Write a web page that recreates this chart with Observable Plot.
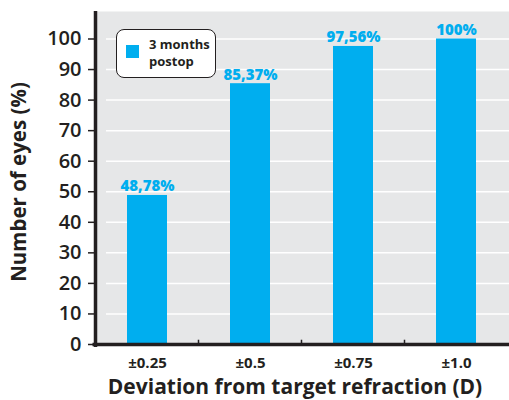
<!DOCTYPE html>
<html>
<head>
<meta charset="utf-8">
<script src="https://cdn.jsdelivr.net/npm/d3@7"></script>
<script src="https://cdn.jsdelivr.net/npm/@observablehq/plot@0.6"></script>
<style>
  html, body { margin: 0; padding: 0; background: #fff; }
  #chart { position: relative; width: 509px; height: 400px; }
  .legend {
    position: absolute; left: 116px; top: 29px; width: 98px; height: 47px;
    border: 1.5px solid #231f20; border-radius: 8px; background: #fff;
    font-family: "Open Sans", sans-serif; font-weight: 700; font-size: 13px; color: #231f20;
    box-sizing: content-box;
  }
  .legend .swatch { position: absolute; left: 9px; top: 15px; width: 13px; height: 13px; }
  .legend .lbl { position: absolute; left: 32px; top: 6px; line-height: 17px; }
</style>
</head>
<body>
<div id="chart"></div>
<script>
// Share of eyes within each refraction deviation band, 3 months after surgery
const categories = ["±0.25", "±0.5", "±0.75", "±1.0"];
const values = [48.78, 85.37, 97.56, 100];
const valueLabels = ["48,78%", "85,37%", "97,56%", "100%"];
const yTicks = [0, 10, 20, 30, 40, 50, 60, 70, 80, 90, 100];
const seriesName = ["3 months", "postop"];
const xTitle = "Deviation from target refraction (D)";
const yTitle = "Number of eyes (%)";

const ink = "#231f20";
const blue = "#00aeef";
const data = categories.map((c, i) => ({cat: c, value: values[i], label: valueLabels[i]}));

const chart = Plot.plot({
  width: 509,
  height: 400,
  marginLeft: 94,
  marginRight: 0,
  marginTop: 11,
  marginBottom: 56,
  style: {fontFamily: "'Open Sans', sans-serif", fontWeight: 600, color: ink, background: "#fff"},
  x: {domain: categories, paddingInner: 0.615, paddingOuter: 0.3075},
  y: {domain: [0, 109]},
  marks: [
    Plot.frame({fill: "#e6e7e8", stroke: null}),
    Plot.ruleY(yTicks.slice(1), {stroke: "#fff", strokeWidth: 1.5, insetLeft: 12}),
    Plot.barY(data, {x: "cat", y: "value", fill: blue}),
    Plot.text(data, {x: "cat", y: "value", text: "label", fill: blue, fontSize: 15, fontWeight: 800, lineAnchor: "bottom", dy: -4}),
    // small ticks between the bands along the baseline
    Plot.ruleX(categories.slice(1), {x: d => d, dx: -52, y1: 0, y2: 1.4, stroke: ink, strokeWidth: 1.5}),
    // axis lines
    Plot.ruleX([categories[0]], {x: d => d, dx: -52, stroke: ink, strokeWidth: 3.5, insetBottom: -3}),
    Plot.ruleY([0], {stroke: ink, strokeWidth: 3.5, insetLeft: -1.5}),
    Plot.axisY({ticks: yTicks, tickSize: 6, tickPadding: 7, fontSize: 20, fontWeight: 600, stroke: ink, strokeWidth: 1.5, fill: ink, label: null}),
    Plot.axisX({tickSize: 0, tickPadding: 13, fontSize: 15, fontWeight: 700, fill: ink, label: null}),
    Plot.text([xTitle], {frameAnchor: "bottom", dy: 49, dx: -7, fontSize: 21, fontWeight: 700, fill: ink}),
    Plot.text([yTitle], {frameAnchor: "left", textAnchor: "middle", lineAnchor: "middle", dx: -75, dy: 4, rotate: -90, fontSize: 20.5, fontWeight: 700, fill: ink})
  ]
});

const root = document.getElementById("chart");
root.appendChild(chart);

const legend = document.createElement("div");
legend.className = "legend";
legend.innerHTML = `<div class="swatch" style="background:${blue}"></div><div class="lbl">${seriesName.join("<br>")}</div>`;
root.appendChild(legend);
</script>
</body>
</html>
